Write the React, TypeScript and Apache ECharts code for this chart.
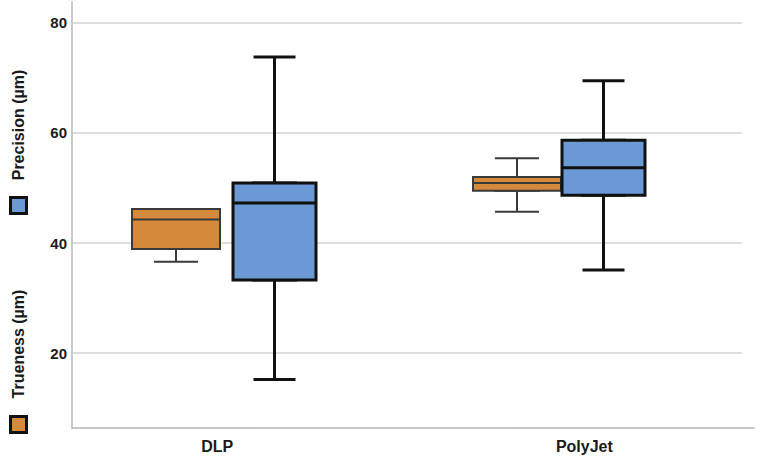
import React, { useEffect, useRef } from "react";
import * as echarts from "echarts";

const categories = ["DLP", "PolyJet"];
const yTicks = [20, 40, 60, 80];
// [min, Q1, median, Q3, max]
const truenessData = [
  [36.6, 38.9, 44.3, 46.2, 46.2],
  [45.7, 49.5, 50.9, 52.0, 55.4],
];
const precisionData = [
  [15.2, 33.3, 47.3, 50.9, 73.8],
  [35.1, 48.7, 53.7, 58.7, 69.5],
];
const seriesNames = ["Trueness (µm)", "Precision (µm)"];

const Y_MIN = 6.4;
const Y_MAX = 83.8;
const FONT = "'Liberation Sans', Arial, sans-serif";
const ORANGE = "#d4893b";
const BLUE = "#6a99d3";

// box-only version (whiskers collapsed onto the box) so the whisker caps of the
// underlying series can be half the box width, as in the reference
const boxOnly = (d: number[][]) => d.map((r) => [r[1], r[1], r[2], r[3], r[3]]);

export default function App() {
  const ref = useRef<HTMLDivElement>(null);
  useEffect(() => {
    if (!ref.current) return;
    const chart = echarts.init(ref.current, undefined, { renderer: "svg" });
    const top = 2;
    const height = 426;
    const hiddenY = (gridIndex: number) => ({
      type: "value",
      gridIndex,
      min: Y_MIN,
      max: Y_MAX,
      show: false,
      splitLine: { show: false },
    });
    const hiddenX = (gridIndex: number) => ({
      type: "category",
      gridIndex,
      data: categories,
      show: false,
    });
    const orangeStyle = { color: ORANGE, borderColor: "#3a3a3a", borderWidth: 2 };
    const blueStyle = { color: BLUE, borderColor: "#111111", borderWidth: 3 };
    chart.setOption({
      animation: false,
      backgroundColor: "#ffffff",
      grid: [
        { left: 72, width: 670, top, height },
        { left: 72, width: 682, top, height },
        { left: 5.5, width: 682, top, height },
        { left: 110, width: 681, top, height },
        { left: 33.5, width: 765, top, height },
      ],
      xAxis: [
        hiddenX(0),
        {
          type: "category",
          gridIndex: 1,
          data: categories,
          axisLine: { show: true, lineStyle: { color: "#b4b4b8", width: 1.5 } },
          axisTick: { show: false },
          axisLabel: { show: false },
        },
        hiddenX(2),
        hiddenX(3),
        {
          type: "category",
          gridIndex: 4,
          data: categories,
          axisLine: { show: false },
          axisTick: { show: false },
          axisLabel: {
            show: true,
            margin: 10,
            color: "#1a1a1a",
            fontFamily: FONT,
            fontWeight: "bold",
            fontSize: 16,
          },
        },
        hiddenX(2),
        hiddenX(3),
      ],
      yAxis: [
        {
          type: "value",
          gridIndex: 0,
          min: Y_MIN,
          max: Y_MAX,
          axisLine: { show: true, lineStyle: { color: "#c8c8c8", width: 2 } },
          axisTick: { show: false, customValues: yTicks },
          axisLabel: {
            customValues: yTicks,
            margin: 5,
            color: "#1a1a1a",
            fontFamily: FONT,
            fontWeight: "bold",
            fontSize: 15,
          },
          splitLine: { show: true, lineStyle: { color: "#d2d2d2", width: 1.5 } },
        },
        hiddenY(1),
        hiddenY(2),
        hiddenY(3),
        hiddenY(4),
      ],
      series: [
        {
          name: seriesNames[0],
          type: "boxplot",
          xAxisIndex: 2,
          yAxisIndex: 2,
          boxWidth: [44, 44],
          data: truenessData,
          itemStyle: orangeStyle,
        },
        {
          name: seriesNames[0],
          type: "boxplot",
          xAxisIndex: 5,
          yAxisIndex: 2,
          boxWidth: [88, 88],
          data: boxOnly(truenessData),
          itemStyle: orangeStyle,
        },
        {
          name: seriesNames[1],
          type: "boxplot",
          xAxisIndex: 3,
          yAxisIndex: 3,
          boxWidth: [42, 42],
          data: precisionData,
          itemStyle: blueStyle,
        },
        {
          name: seriesNames[1],
          type: "boxplot",
          xAxisIndex: 6,
          yAxisIndex: 3,
          boxWidth: [83, 83],
          data: boxOnly(precisionData),
          itemStyle: blueStyle,
        },
      ],
      graphic: [
        {
          type: "text",
          x: 18.5,
          y: 125,
          rotation: Math.PI / 2,
          style: {
            text: seriesNames[1],
            fill: "#1a1a1a",
            font: `bold 16px ${FONT}`,
            align: "center",
            verticalAlign: "middle",
          },
        },
        {
          type: "rect",
          shape: { x: 10.5, y: 197.5, width: 16, height: 16 },
          style: { fill: BLUE, stroke: "#111111", lineWidth: 3 },
        },
        {
          type: "text",
          x: 18.5,
          y: 344,
          rotation: Math.PI / 2,
          style: {
            text: seriesNames[0],
            fill: "#1a1a1a",
            font: `bold 16px ${FONT}`,
            align: "center",
            verticalAlign: "middle",
          },
        },
        {
          type: "rect",
          shape: { x: 10.5, y: 416.5, width: 16, height: 16 },
          style: { fill: ORANGE, stroke: "#111111", lineWidth: 3 },
        },
      ],
    });
    return () => chart.dispose();
  }, []);
  return (
    <div
      ref={ref}
      style={{ position: "fixed", left: 0, top: 0, width: 768, height: 468 }}
    />
  );
}
